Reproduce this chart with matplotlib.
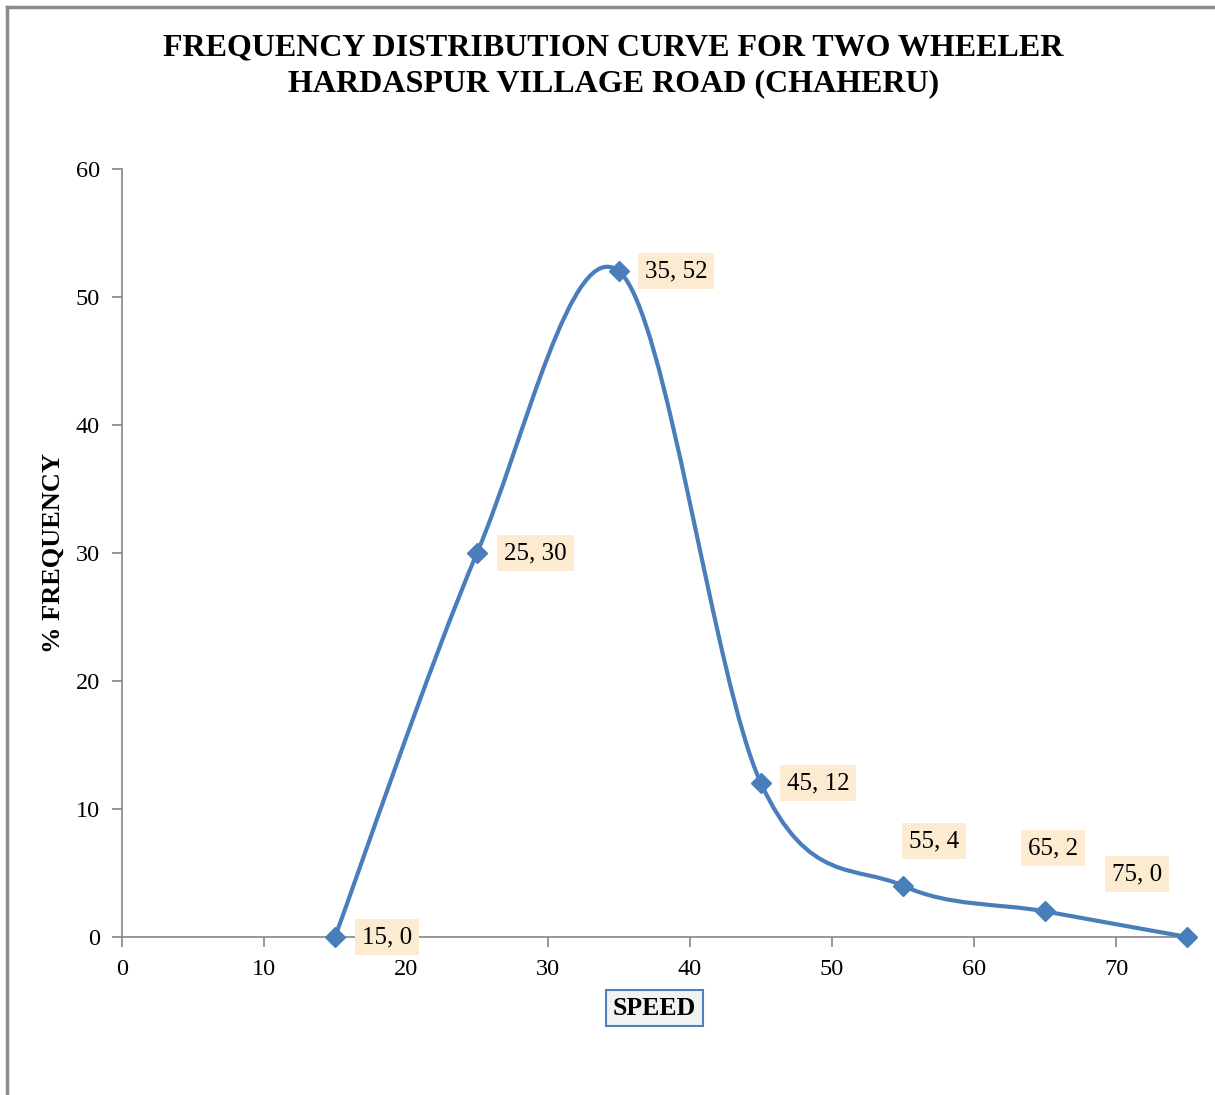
# frequency distribution curve - two wheeler, Hardaspur village road

import numpy as np
import matplotlib.pyplot as plt
from matplotlib.path import Path
from matplotlib.patches import PathPatch

speed = [15, 25, 35, 45, 55, 65, 75]
freq = [0, 30, 52, 12, 4, 2, 0]
point_labels = ["15, 0", "25, 30", "35, 52", "45, 12", "55, 4", "65, 2", "75, 0"]
# where each data label sits (data coords, left edge of text)
label_pos = [(16.9, 0), (26.9, 30), (36.8, 52), (46.8, 12), (55.4, 7.5), (63.8, 6.95), (69.7, 4.9)]

title = "FREQUENCY DISTRIBUTION CURVE FOR TWO WHEELER\nHARDASPUR VILLAGE ROAD (CHAHERU)"
xticks = [0, 10, 20, 30, 40, 50, 60, 70]
yticks = [0, 10, 20, 30, 40, 50, 60]

line_color = "#4A7EBB"
axis_color = "#868686"
plt.rcParams['font.family'] = ['Liberation Serif', 'DejaVu Serif']


def smooth_path(xs, ys):
    """Excel-like smoothed line: cubic bezier with catmull-rom control points"""
    pts = np.column_stack((xs, ys)).astype(float)
    n = len(pts)
    verts = [pts[0]]
    codes = [Path.MOVETO]
    for i in range(n - 1):
        p0 = pts[i - 1] if i > 0 else pts[i]
        p1 = pts[i]
        p2 = pts[i + 1]
        p3 = pts[i + 2] if i + 2 < n else pts[i + 1]
        c1 = p1 + (p2 - p0) / 6.0
        c2 = p2 - (p3 - p1) / 6.0
        verts += [c1, c2, p2]
        codes += [Path.CURVE4] * 3
    return Path(verts, codes)


fig = plt.figure(figsize=(12.15, 10.95), dpi=100)
ax = fig.add_axes([0.1004, 0.1443, 0.8766, 0.7014])

ax.add_patch(PathPatch(smooth_path(speed, freq), facecolor="none",
                       edgecolor=line_color, lw=3.0, zorder=3))
ax.plot(speed, freq, linestyle="none", marker="D", markersize=10.5,
        color=line_color, zorder=4, clip_on=False)

for lbl, (lx, ly) in zip(point_labels, label_pos):
    ax.text(lx, ly, lbl, fontsize=18, ha="left", va="center", zorder=5,
            bbox=dict(boxstyle="square,pad=0.28", facecolor="#FDEBD1", edgecolor="none"))

ax.set_xlim(0, 75)
ax.set_ylim(0, 60)
ax.set_xticks(xticks)
ax.set_yticks(yticks)
ax.tick_params(axis="both", labelsize=17.5, color=axis_color, length=7, width=1.2)
ax.tick_params(axis="x", pad=9)
ax.tick_params(axis="y", pad=9)
for s in ["top", "right"]:
    ax.spines[s].set_visible(False)
for s in ["left", "bottom"]:
    ax.spines[s].set_color(axis_color)
    ax.spines[s].set_linewidth(1.2)

ax.set_ylabel("% FREQUENCY", fontsize=19, fontweight="bold", labelpad=8)
ax.set_xlabel("SPEED", fontsize=18.5, fontweight="bold", labelpad=12,
              bbox=dict(boxstyle="square,pad=0.25", facecolor="#F2F2F2",
                        edgecolor="#4F81BD", linewidth=1.5))

fig.text(0.505, 0.969, title, fontsize=23, fontweight="bold", ha="center", va="top",
         linespacing=1.28)

# outer chart border (only top and left edges visible in the crop)
fig.add_artist(plt.Line2D([0.006, 1.0], [0.9935, 0.9935], color="#8C8C8C", lw=2.5))
fig.add_artist(plt.Line2D([0.006, 0.006], [0.0, 0.9935], color="#8C8C8C", lw=2.5))

fig.savefig("out.png", dpi=100)
